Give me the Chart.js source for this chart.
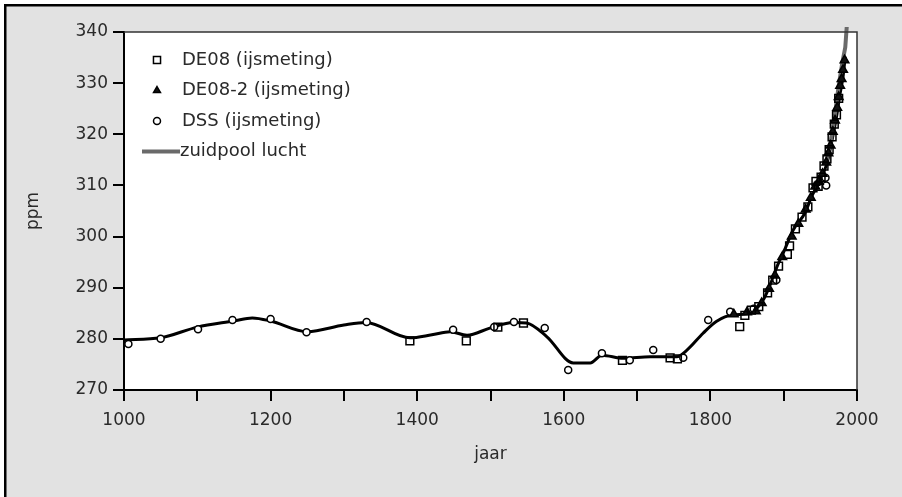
<!DOCTYPE html>
<html>
<head>
<meta charset="utf-8">
<script src="https://cdn.jsdelivr.net/npm/chart.js@4/dist/chart.umd.min.js"></script>
<style>
  html, body { margin: 0; padding: 0; background: #fff; }
  #wrap { width: 902px; height: 497px; }
</style>
</head>
<body>
<div id="wrap"><canvas id="grafiek"></canvas></div>
<script>
/* CO2 uit ijskernen (Law Dome) + zuidpool lucht */

// gladde curve door alle metingen
const FIT_JAAR = [1000, 1050, 1100, 1150, 1175, 1200, 1250, 1300, 1330, 1390, 1420, 1445, 1468, 1499, 1531, 1549, 1577, 1613, 1636, 1652, 1681, 1718, 1754, 1768, 1790, 1808, 1831, 1854, 1872, 1881, 1892, 1900, 1913, 1929, 1938, 1950, 1959, 1965, 1972, 1977, 1981, 1984];
const FIT_PPM  = [279.8, 280.2, 282.3, 283.5, 284.1, 283.5, 281.4, 282.7, 283.2, 280.2, 280.8, 281.4, 280.7, 282.1, 283.2, 283.1, 280.4, 275.3, 275.3, 276.8, 276.2, 276.5, 276.5, 277.8, 281.1, 283.4, 284.7, 285.0, 287.6, 290.4, 294.5, 297.0, 301.3, 304.6, 307.8, 311.1, 314.3, 318.2, 323.4, 328.0, 331.3, 335.2];

const DE08_JAAR = [1390, 1467, 1510, 1545, 1680, 1745, 1755, 1840, 1847, 1856, 1866, 1878, 1885, 1893, 1905, 1908, 1916, 1925, 1933, 1940, 1944, 1947, 1951, 1955, 1959, 1962, 1966, 1969, 1972, 1975];
const DE08_PPM  = [279.6, 279.6, 282.3, 283.1, 275.8, 276.3, 276.1, 282.4, 284.6, 285.6, 286.3, 289.0, 291.5, 294.2, 296.5, 298.2, 301.5, 303.8, 305.8, 309.5, 310.8, 309.8, 311.6, 313.8, 315.2, 317.0, 319.5, 322.0, 323.8, 327.0];

const DE082_JAAR = [1832, 1850, 1862, 1870, 1880, 1888, 1898, 1911, 1920, 1930, 1937, 1943, 1948, 1953, 1958, 1961, 1964, 1967, 1970, 1973, 1975, 1977, 1979, 1981, 1983];
const DE082_PPM  = [284.8, 285.2, 285.4, 287.0, 289.8, 292.4, 296.0, 300.0, 302.5, 305.3, 307.6, 309.8, 310.7, 312.3, 314.5, 316.3, 317.8, 320.5, 322.7, 325.2, 327.3, 329.5, 330.8, 332.6, 334.5];

const DSS_JAAR = [1006, 1050, 1101, 1148, 1200, 1249, 1331, 1449, 1505, 1532, 1574, 1606, 1652, 1690, 1722, 1763, 1797, 1827, 1859, 1890, 1957, 1958];
const DSS_PPM  = [279.0, 280.0, 281.9, 283.7, 283.9, 281.3, 283.3, 281.8, 282.3, 283.3, 282.1, 273.9, 277.2, 275.8, 277.8, 276.3, 283.7, 285.3, 285.9, 291.5, 311.5, 310.0];

const ZP_JAAR = [1958, 1964, 1970, 1975, 1980, 1984, 1986];
const ZP_PPM  = [314.5, 318.5, 324.0, 329.5, 334.0, 337.0, 341.0];

const Y_TICKS = [270, 280, 290, 300, 310, 320, 330, 340];
const X_LABELS = [1000, 1200, 1400, 1600, 1800, 2000];

const punten = (xs, ys) => xs.map((x, i) => ({ x, y: ys[i] }));

const FONT = 'DejaVu Sans';
const TEKST = '#2a2a2a';

// achtergrond: grijs vlak met zwarte rand links/boven
const achtergrond = {
  id: 'achtergrond',
  beforeDraw(chart) {
    const { ctx, width, height, chartArea: a } = chart;
    ctx.save();
    ctx.fillStyle = '#fff';
    ctx.fillRect(0, 0, width, height);
    ctx.fillStyle = '#e2e2e2';
    ctx.fillRect(4, 4, width - 4, height - 4);
    ctx.fillStyle = '#000';
    ctx.fillRect(4, 4, width - 4, 2.5);
    ctx.fillRect(4, 4, 2.5, height - 4);
    ctx.fillStyle = '#fff';
    ctx.fillRect(a.left, a.top, a.right - a.left, a.bottom - a.top);
    ctx.restore();
  },
  afterDraw(chart) {
    const { ctx, chartArea: a } = chart;
    ctx.save();
    ctx.strokeStyle = '#333';
    ctx.lineWidth = 1.5;
    ctx.beginPath();
    ctx.moveTo(a.left, a.top);
    ctx.lineTo(a.right, a.top);
    ctx.lineTo(a.right, a.bottom);
    ctx.stroke();
    ctx.restore();
  }
};

// legenda linksboven in het plotvlak
const legenda = {
  id: 'legenda',
  afterDraw(chart) {
    const { ctx, chartArea: a } = chart;
    const items = chart.data.datasets.filter(d => d.label);
    ctx.save();
    ctx.font = '18px "' + FONT + '"';
    ctx.textBaseline = 'middle';
    items.forEach((ds, i) => {
      const y = a.top + 28 + i * 30.5;
      if (ds.showLine) {
        ctx.strokeStyle = ds.borderColor;
        ctx.lineWidth = ds.borderWidth;
        ctx.beginPath();
        ctx.moveTo(a.left + 18, y);
        ctx.lineTo(a.left + 56, y);
        ctx.stroke();
        ctx.fillStyle = TEKST;
        ctx.fillText(ds.label, a.left + 56, y);
      } else {
        ctx.strokeStyle = '#000';
        ctx.lineWidth = 1.5;
        ctx.fillStyle = ds.legendFill;
        Chart.helpers.drawPoint(ctx, {
          pointStyle: ds.pointStyle,
          radius: ds.legendRadius,
          rotation: 0,
          borderWidth: 1.5
        }, a.left + 33, y);
        ctx.fillStyle = TEKST;
        ctx.fillText(ds.label, a.left + 58, y);
      }
    });
    ctx.restore();
  }
};

new Chart(document.getElementById('grafiek'), {
  type: 'scatter',
  data: {
    datasets: [
      {
        label: 'DE08 (ijsmeting)',
        data: punten(DE08_JAAR, DE08_PPM),
        pointStyle: 'rect',
        pointRadius: 5.5,
        legendRadius: 5,
        legendFill: '#fff',
        pointBorderWidth: 1.5,
        pointBorderColor: '#000',
        pointBackgroundColor: 'rgba(255,255,255,0)',
        showLine: false,
        order: 1
      },
      {
        label: 'DE08-2 (ijsmeting)',
        data: punten(DE082_JAAR, DE082_PPM),
        pointStyle: 'triangle',
        pointRadius: 5,
        legendRadius: 4,
        legendFill: '#111',
        pointBorderWidth: 1.5,
        pointBorderColor: '#000',
        pointBackgroundColor: '#111',
        showLine: false,
        order: 2
      },
      {
        label: 'DSS (ijsmeting)',
        data: punten(DSS_JAAR, DSS_PPM),
        pointStyle: 'circle',
        pointRadius: 3.5,
        legendRadius: 3.5,
        legendFill: '#fff',
        pointBorderWidth: 1.5,
        pointBorderColor: '#000',
        pointBackgroundColor: '#fff',
        showLine: false,
        order: 3
      },
      {
        label: 'zuidpool lucht',
        data: punten(ZP_JAAR, ZP_PPM),
        showLine: true,
        borderColor: '#6a6a6a',
        borderWidth: 4,
        pointRadius: 0,
        clip: { left: 2, top: 5, right: 2, bottom: 2 },
        order: 4
      },
      {
        label: '',
        data: punten(FIT_JAAR, FIT_PPM),
        showLine: true,
        borderColor: '#000',
        borderWidth: 3,
        pointRadius: 0,
        cubicInterpolationMode: 'monotone',
        order: 5
      }
    ]
  },
  options: {
    responsive: true,
    maintainAspectRatio: false,
    animation: false,
    events: [],
    layout: { padding: { left: 0, top: 32, right: 45, bottom: 0 } },
    plugins: {
      legend: { display: false },
      tooltip: { enabled: false }
    },
    scales: {
      x: {
        type: 'linear',
        min: 1000,
        max: 2000,
        afterFit: s => { s.height = 107; },
        border: { display: true, color: '#000', width: 2 },
        grid: { drawOnChartArea: false, color: '#000', lineWidth: 2, tickLength: 11 },
        ticks: {
          stepSize: 100,
          color: TEKST,
          padding: 9,
          maxRotation: 0,
          autoSkip: false,
          font: { family: FONT, size: 17 },
          callback: v => X_LABELS.includes(v) ? String(v) : ''
        },
        title: {
          display: true,
          text: 'jaar',
          color: TEKST,
          font: { family: FONT, size: 17 },
          padding: { top: 0, bottom: 32 }
        }
      },
      y: {
        min: 270,
        max: 340,
        afterFit: s => { s.width = 124; },
        border: { display: true, color: '#000', width: 2 },
        grid: { drawOnChartArea: false, color: '#000', lineWidth: 2, tickLength: 11 },
        afterBuildTicks: s => { s.ticks = Y_TICKS.map(v => ({ value: v })); },
        ticks: {
          color: TEKST,
          padding: 5,
          font: { family: FONT, size: 17 },
          callback: v => String(v)
        },
        title: {
          display: true,
          text: 'ppm',
          color: TEKST,
          font: { family: FONT, size: 17 },
          padding: { top: 23, bottom: 0 }
        }
      }
    }
  },
  plugins: [achtergrond, legenda]
});
</script>
</body>
</html>
